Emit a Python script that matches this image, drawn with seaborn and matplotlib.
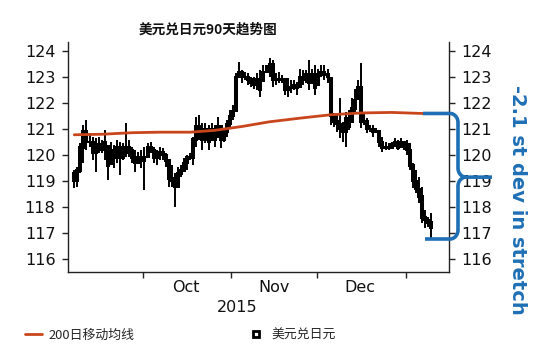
import numpy as np
import pandas as pd
import matplotlib
matplotlib.use("Agg")
import matplotlib.pyplot as plt
import matplotlib.transforms as mtransforms
from matplotlib.lines import Line2D
import seaborn as sns

# ---------------- data ----------------
highs = [119.42, 119.55, 120.45, 121.15, 121.35, 120.83, 120.70, 120.64, 120.70, 120.58,
         120.96, 120.32, 120.51, 120.38, 120.58, 120.51, 120.45, 121.22, 120.58, 120.32,
         120.19, 120.13, 120.19, 120.32, 120.45, 120.51, 120.32, 120.19, 120.32, 120.26,
         120.06, 119.81, 119.62, 119.30, 119.55, 119.62, 119.87, 120.00, 120.06, 120.70,
         121.47, 121.54, 121.22, 121.22, 121.15, 121.22, 121.15, 121.47, 121.09, 121.03,
         121.35, 121.73, 121.92, 123.14, 123.59, 123.27, 123.21, 123.14, 123.01, 123.01,
         123.14, 123.27, 123.46, 123.46, 123.72, 123.65, 123.14, 123.21, 123.08, 122.95,
         122.95, 122.88, 122.88, 122.82, 123.33, 123.27, 123.27, 123.65, 123.33, 123.46,
         123.33, 123.46, 123.46, 123.33, 122.95, 121.60, 121.54, 122.18, 121.28, 121.67,
         121.73, 122.18, 122.56, 122.88, 123.53, 121.60, 121.41, 121.15, 121.15, 121.03,
         120.96, 120.70, 120.51, 120.45, 120.51, 120.64, 120.58, 120.64, 120.51, 120.58,
         120.45, 119.68, 119.42, 119.17, 118.78, 117.88, 117.63, 117.76]
lows = [118.72, 118.78, 119.30, 119.68, 120.19, 120.32, 119.81, 119.36, 120.06, 120.06,
        119.81, 119.04, 119.68, 119.49, 119.68, 119.23, 119.81, 119.94, 119.94, 119.68,
        119.36, 119.68, 119.49, 118.65, 119.94, 120.06, 119.68, 119.62, 119.81, 119.81,
        119.55, 118.78, 118.78, 118.01, 118.78, 119.17, 119.36, 119.42, 119.81, 119.62,
        120.32, 120.58, 120.19, 120.45, 120.19, 120.58, 120.32, 120.70, 120.26, 120.51,
        120.70, 121.09, 121.35, 121.67, 123.01, 122.76, 122.89, 122.69, 122.63, 122.56,
        122.50, 122.24, 122.88, 123.21, 123.01, 122.63, 122.69, 122.76, 122.76, 122.31,
        122.24, 122.37, 122.50, 122.31, 122.63, 122.69, 122.76, 122.50, 122.76, 122.31,
        122.69, 123.01, 122.88, 122.76, 121.15, 121.09, 120.90, 120.64, 120.51, 120.32,
        120.96, 121.28, 121.67, 122.18, 121.03, 121.15, 120.83, 120.90, 120.70, 120.83,
        120.32, 120.13, 120.19, 120.19, 120.26, 120.32, 120.19, 120.32, 120.19, 120.00,
        119.42, 118.72, 118.53, 118.14, 117.37, 117.18, 117.24, 116.79]
closes = [119.0, 119.4, 120.3, 120.9, 120.5, 120.5, 120.1, 120.4, 120.3, 120.2,
          120.5, 119.6, 120.2, 119.9, 120.3, 119.9, 120.1, 120.3, 120.2, 119.9,
          119.7, 119.9, 119.8, 119.9, 120.3, 120.2, 119.9, 120.0, 120.1, 120.0,
          119.8, 119.1, 119.0, 118.8, 119.3, 119.4, 119.7, 119.9, 119.9, 120.6,
          121.1, 120.9, 120.6, 121.0, 120.5, 121.0, 120.6, 121.1, 120.6, 120.9,
          121.2, 121.5, 121.7, 123.0, 123.2, 123.0, 123.0, 122.9, 122.8, 122.7,
          122.9, 122.5, 123.2, 123.4, 123.5, 122.9, 122.9, 122.9, 122.9, 122.5,
          122.6, 122.6, 122.7, 122.6, 123.0, 122.9, 123.1, 122.8, 123.1, 122.6,
          123.1, 123.2, 123.1, 123.0, 121.5, 121.3, 121.2, 121.0, 120.9, 121.4,
          121.1, 121.8, 122.1, 122.6, 121.3, 121.3, 121.0, 121.0, 120.9, 120.9,
          120.5, 120.3, 120.3, 120.3, 120.4, 120.5, 120.3, 120.5, 120.4, 120.2,
          119.6, 119.0, 118.7, 118.4, 117.6, 117.5, 117.4, 117.2]
first_open = 119.3
start_date, end_date = "2015-09-07", "2016-01-10"

ma_index = [0, 9, 19, 28, 38, 46, 55, 64, 74, 84, 94, 104, 114, 117]
ma_values = [120.78, 120.80, 120.86, 120.88, 120.88, 120.95, 121.10, 121.28,
             121.42, 121.55, 121.62, 121.64, 121.60, 121.60]

month_ticks = ["2015-10-01", "2015-11-01", "2015-12-01", "2016-01-01"]
month_label_pos = ["2015-10-16", "2015-11-16", "2015-12-16"]
month_labels = ["Oct", "Nov", "Dec"]
year_label = "2015"
y_ticks = [116, 117, 118, 119, 120, 121, 122, 123, 124]

title = "美元兑日元90天趋势图"
ma_name = "200日移动均线"
price_name = "美元兑日元"
note = "-2.1 st dev in stretch"
brace_top, brace_tip, brace_bottom = 121.6, 119.15, 116.77

# ---------------- build frames ----------------
dates = pd.date_range(start_date, end_date, periods=len(highs))
df = pd.DataFrame({"date": dates, "high": highs, "low": lows, "close": closes})
df["open"] = df["close"].shift(1).fillna(first_open)
df["open"] = df["open"].clip(df["low"], df["high"])
ma_df = pd.DataFrame({"date": dates[ma_index], "ma": ma_values})

# ---------------- style ----------------
sns.set_theme(style="ticks")
cjk = ["Noto Sans CJK SC", "DejaVu Sans"]
plt.rcParams["font.family"] = cjk
plt.rcParams["axes.edgecolor"] = "#222222"
plt.rcParams["axes.linewidth"] = 1.0

W, H = 560, 352
fig = plt.figure(figsize=(W / 100, H / 100), dpi=100)
ax_l, ax_r, ax_t, ax_b = 68, 449, 42, 272
ax = fig.add_axes([ax_l / W, 1 - ax_b / H, (ax_r - ax_l) / W, (ax_b - ax_t) / H])

MA_COLOR = "#c9461d"
BLUE = "#1f6fb6"

# candles: wick + body
ax.vlines(df["date"], df["low"], df["high"], color="black", lw=1.4, zorder=2)
ax.vlines(df["date"], np.minimum(df["open"], df["close"]) - 0.05,
          np.maximum(df["open"], df["close"]) + 0.05, color="black", lw=2.9, zorder=2)

sns.lineplot(data=ma_df, x="date", y="ma", ax=ax, color=MA_COLOR, lw=2.0,
             legend=False, zorder=3)

# axes limits / ticks
oct1 = pd.Timestamp("2015-10-01")
ax.set_xlim(oct1 - pd.Timedelta(days=26.2), oct1 + pd.Timedelta(days=107.2))
ax.set_ylim(115.5, 124.35)
ax.set_yticks(y_ticks)
ax.set_yticklabels([str(v) for v in y_ticks])
ax.set_xticks(pd.to_datetime(month_ticks))
ax.set_xticklabels([""] * len(month_ticks))
ax.set_xticks(pd.to_datetime(month_label_pos), minor=True)
ax.set_xticklabels(month_labels, minor=True)
ax.tick_params(axis="x", which="minor", length=0, pad=6)
ax.tick_params(axis="x", which="major", length=4, width=1, color="#222222")
ax.tick_params(axis="y", which="major", length=4, width=1, pad=5,
               left=True, right=True, labelleft=True, labelright=True,
               color="#222222")
for lab in (ax.get_xticklabels(minor=True) + ax.yaxis.get_ticklabels()
            + [t.label2 for t in ax.yaxis.get_major_ticks()]):
    lab.set_fontfamily("DejaVu Sans")
    lab.set_fontsize(11.5)
    lab.set_color("#111111")
ax.set_xlabel("")
ax.set_ylabel("")
ax.spines["top"].set_visible(False)
ax.spines["right"].set_visible(True)
ax.grid(False)

fig.text(237 / W, 1 - 307 / H, year_label, ha="center", va="center",
         fontsize=11.5, family="DejaVu Sans", color="#111111")

# curly brace (x in axes fraction, y in data)
trans = mtransforms.blended_transform_factory(ax.transAxes, ax.transData)
span = ax_r - ax_l


def fx(xpx):
    return (np.asarray(xpx, dtype=float) - ax_l) / span


def arc(cx_px, cy, th0, th1, rx_px=8, ry=0.35, n=24):
    th = np.linspace(th0, th1, n)
    return cx_px + rx_px * np.cos(th), cy + ry * np.sin(th)


xv, rxp, ry = 458, 8, 0.35
a1x, a1y = arc(xv - rxp, brace_top - ry, np.pi / 2, 0)
a2x, a2y = arc(xv + rxp, brace_tip + ry, np.pi, 1.5 * np.pi)
up_x = np.concatenate([[423], a1x, a2x, [492]])
up_y = np.concatenate([[brace_top], a1y, a2y, [brace_tip]])
a3x, a3y = arc(xv + rxp, brace_tip - ry, np.pi / 2, np.pi)
a4x, a4y = arc(xv - rxp, brace_bottom + ry, 0, -np.pi / 2)
lo_x = np.concatenate([a3x, a4x, [425]])
lo_y = np.concatenate([a3y, a4y, [brace_bottom]])
for bx, by in ((up_x, up_y), (lo_x, lo_y)):
    ax.plot(fx(bx), by, color=BLUE, lw=2.6, transform=trans, clip_on=False,
            solid_capstyle="butt", solid_joinstyle="round", zorder=4)

fig.text(517 / W, 1 - 200 / H, note, rotation=270, ha="center", va="center",
         fontsize=14, fontweight="bold", color=BLUE, family="DejaVu Sans")

fig.text(208 / W, 1 - 30 / H, title, ha="center", va="center",
         fontsize=9.8, fontweight="bold", family=cjk, color="#111111")

handles = [Line2D([0], [0], color=MA_COLOR, lw=2),
           Line2D([0], [0], color="black", marker="s", ls="none", markersize=5,
                  markerfacecolor="white", markeredgecolor="black", markeredgewidth=2)]
fig.legend(handles, [ma_name, price_name], loc="center left",
           bbox_to_anchor=(25 / W, 1 - 335 / H), ncol=2, frameon=False,
           prop={"family": cjk, "size": 9.3}, handlelength=1.3, handletextpad=0.55,
           columnspacing=8.7, borderaxespad=0, borderpad=0)

fig.savefig("out.png", dpi=100)
